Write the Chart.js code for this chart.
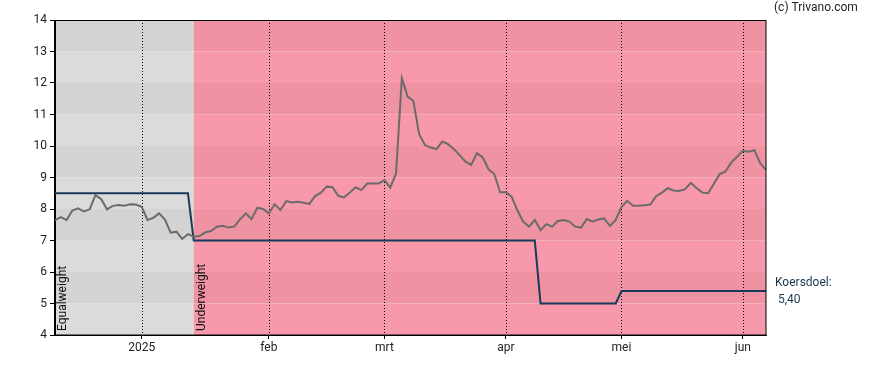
<!DOCTYPE html>
<html>
<head>
<meta charset="utf-8">
<script src="https://cdn.jsdelivr.net/npm/chart.js@4.4.1/dist/chart.umd.min.js"></script>
<style>
  html, body { margin: 0; padding: 0; background: #ffffff; }
  #c { display: block; }
</style>
</head>
<body>
<canvas id="c" width="888" height="370"></canvas>
<script>
// ---- Data (trading-day index on x) ----
const priceValues = [
  7.65, 7.74, 7.65, 7.95, 8.02, 7.92, 7.99, 8.44, 8.31, 7.99,
  8.10, 8.13, 8.10, 8.15, 8.14, 8.07, 7.65, 7.72, 7.86, 7.67,
  7.25, 7.28, 7.05, 7.20, 7.12, 7.14, 7.26, 7.30, 7.44, 7.47,
  7.41, 7.44, 7.67, 7.86, 7.68, 8.04, 8.00, 7.86, 8.15, 7.97,
  8.25, 8.21, 8.23, 8.20, 8.16, 8.41, 8.52, 8.71, 8.69, 8.42,
  8.37, 8.52, 8.69, 8.60, 8.81, 8.81, 8.81, 8.92, 8.68, 9.13,
  12.15, 11.57, 11.43, 10.37, 10.03, 9.95, 9.90, 10.14, 10.06, 9.90,
  9.71, 9.50, 9.40, 9.77, 9.64, 9.26, 9.11, 8.53, 8.53, 8.39,
  7.95, 7.60, 7.44, 7.65, 7.33, 7.52, 7.44, 7.62, 7.65, 7.60,
  7.44, 7.41, 7.68, 7.60, 7.67, 7.70, 7.46, 7.65, 8.07, 8.26,
  8.10, 8.10, 8.12, 8.14, 8.41, 8.52, 8.66, 8.59, 8.57, 8.63,
  8.83, 8.66, 8.52, 8.50, 8.81, 9.11, 9.19, 9.48, 9.66, 9.85,
  9.82, 9.87, 9.45, 9.24
];
const targetIdx    = [0,   23,  24, 83, 84, 97, 98,  123];
const targetValues = [8.5, 8.5, 7,  7,  5,  5,  5.4, 5.4];
const monthIdx     = [15, 37, 57, 78, 98, 119];
const monthLabels  = ['2025', 'feb', 'mrt', 'apr', 'mei', 'jun'];
const ratingStart  = [0, 24];
const ratingLabels = ['Equalweight', 'Underweight'];
const yTicks       = [4, 5, 6, 7, 8, 9, 10, 11, 12, 13, 14];
const lastTarget   = 5.4;
const lastTargetLabel = '5,40';

const FONT = 'Roboto, "Liberation Sans", Arial, sans-serif';
const ratingColors = {
  Equalweight: ['#d3d3d3', '#dbdbdb'],
  Underweight: ['#ef92a2', '#f799ab']
};

const pricePoints  = priceValues.map((v, i) => ({ x: i, y: v }));
const targetPoints = targetIdx.map((x, i) => ({ x: x, y: targetValues[i] }));

const bgPlugin = {
  id: 'bg',
  beforeDraw(chart) {
    const { ctx, chartArea: a, scales: { x, y } } = chart;
    ctx.save();
    for (let r = 0; r < ratingStart.length; r++) {
      const x0 = r === 0 ? a.left : x.getPixelForValue(ratingStart[r]);
      const x1 = r + 1 < ratingStart.length ? x.getPixelForValue(ratingStart[r + 1]) : a.right;
      const cols = ratingColors[ratingLabels[r]];
      for (let k = 0; k < yTicks.length - 1; k++) {
        const lo = yTicks[k], hi = yTicks[k + 1];
        const yTop = y.getPixelForValue(hi), yBot = y.getPixelForValue(lo);
        ctx.fillStyle = (lo % 2 === 1) ? cols[0] : cols[1];
        ctx.fillRect(x0, yTop, x1 - x0, yBot - yTop);
      }
    }
    ctx.restore();
  },
  beforeDatasetsDraw(chart) {
    const { ctx, chartArea: a, scales: { x } } = chart;
    ctx.save();
    // dotted month lines
    ctx.strokeStyle = '#000';
    ctx.lineWidth = 1;
    ctx.setLineDash([1, 2]);
    monthIdx.forEach(m => {
      const px = Math.round(x.getPixelForValue(m)) + 0.5;
      ctx.beginPath();
      ctx.moveTo(px, a.top);
      ctx.lineTo(px, a.bottom);
      ctx.stroke();
    });
    ctx.setLineDash([]);
    // rating labels
    ctx.fillStyle = '#111';
    ctx.font = '12px ' + FONT;
    ctx.textAlign = 'left';
    ctx.textBaseline = 'middle';
    for (let r = 0; r < ratingStart.length; r++) {
      const x0 = r === 0 ? a.left : x.getPixelForValue(ratingStart[r]);
      ctx.save();
      ctx.translate(x0 + 8, a.bottom - 4);
      ctx.rotate(-Math.PI / 2);
      ctx.fillText(ratingLabels[r], 0, 0);
      ctx.restore();
    }
    ctx.restore();
  },
  afterDraw(chart) {
    const { ctx, chartArea: a, scales: { y } } = chart;
    ctx.save();
    ctx.strokeStyle = '#000';
    ctx.lineWidth = 1;
    ctx.strokeRect(Math.round(a.left) - 0.5, Math.round(a.top) + 0.5,
                   Math.round(a.right - a.left) + 0.5, Math.round(a.bottom - a.top) - 0.5);
    ctx.font = '12px ' + FONT;
    ctx.textAlign = 'left';
    ctx.textBaseline = 'middle';
    ctx.fillStyle = '#222';
    ctx.fillText('(c) Trivano.com', a.right + 8, 8);
    const ty = y.getPixelForValue(lastTarget);
    ctx.fillStyle = '#1b3550';
    ctx.fillText('Koersdoel:', a.right + 9, ty - 8);
    ctx.fillText(lastTargetLabel, a.right + 12, ty + 9);
    ctx.restore();
  }
};

new Chart(document.getElementById('c'), {
  type: 'line',
  data: {
    datasets: [
      {
        label: 'Koers',
        data: pricePoints,
        borderColor: '#6b6b6b',
        borderWidth: 2,
        pointRadius: 0,
        tension: 0,
        fill: false
      },
      {
        label: 'Koersdoel',
        data: targetPoints,
        borderColor: '#173a5a',
        borderWidth: 2,
        pointRadius: 0,
        tension: 0,
        fill: false
      }
    ]
  },
  options: {
    responsive: false,
    animation: false,
    devicePixelRatio: 1,
    layout: { padding: { top: 20, right: 122, left: 0, bottom: 0 } },
    plugins: { legend: { display: false }, tooltip: { enabled: false } },
    scales: {
      x: {
        type: 'linear',
        min: 0,
        max: 123,
        afterBuildTicks(scale) { scale.ticks = monthIdx.map(v => ({ value: v })); },
        afterFit(scale) { scale.height = 35; },
        ticks: {
          autoSkip: false,
          maxRotation: 0,
          padding: 2,
          color: '#222',
          font: { family: FONT, size: 12 },
          callback: (v) => { const i = monthIdx.indexOf(v); return i >= 0 ? monthLabels[i] : ''; }
        },
        grid: { drawOnChartArea: false, drawTicks: true, tickLength: 4, color: '#000' },
        border: { display: true, color: '#000' }
      },
      y: {
        min: 4,
        max: 14,
        afterFit(scale) { scale.width = 55; },
        ticks: {
          stepSize: 1,
          padding: 3,
          color: '#222',
          font: { family: FONT, size: 12 }
        },
        grid: { drawOnChartArea: false, drawTicks: true, tickLength: 5, color: '#000' },
        border: { display: true, color: '#000' }
      }
    }
  },
  plugins: [bgPlugin]
});
</script>
</body>
</html>
